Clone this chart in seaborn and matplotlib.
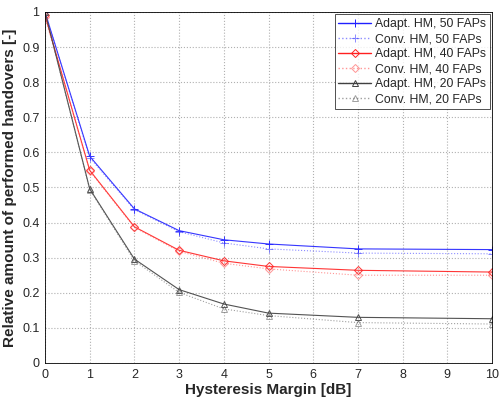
import matplotlib
matplotlib.use("Agg")
import matplotlib.pyplot as plt
from matplotlib.lines import Line2D
import seaborn as sns
import pandas as pd

hm = [0, 1, 2, 3, 4, 5, 7, 10]
adapt_50 = [1.0, 0.589, 0.439, 0.377, 0.351, 0.339, 0.325, 0.323]
conv_50 = [1.0, 0.585, 0.437, 0.374, 0.342, 0.325, 0.313, 0.311]
adapt_40 = [0.99, 0.549, 0.388, 0.321, 0.291, 0.275, 0.264, 0.259]
conv_40 = [0.985, 0.547, 0.386, 0.318, 0.284, 0.268, 0.250, 0.250]
adapt_20 = [1.0, 0.496, 0.296, 0.209, 0.168, 0.142, 0.130, 0.126]
conv_20 = [1.0, 0.494, 0.291, 0.201, 0.154, 0.135, 0.115, 0.111]

labels = ["Adapt. HM, 50 FAPs", "Conv. HM, 50 FAPs",
          "Adapt. HM, 40 FAPs", "Conv. HM, 40 FAPs",
          "Adapt. HM, 20 FAPs", "Conv. HM, 20 FAPs"]
series = [adapt_50, conv_50, adapt_40, conv_40, adapt_20, conv_20]
colors = ["#2020ff", "#4040ff", "#ff2020", "#ff5050", "#404040", "#606060"]
markers = ["+", "+", "D", "D", "^", "^"]
styles = ["-", ":", "-", ":", "-", ":"]

sns.set_style("white")
plt.rcParams["font.family"] = ["Liberation Sans", "DejaVu Sans"]

fig = plt.figure(figsize=(5.0, 3.98), dpi=100)
ax = fig.add_axes([0.09, 0.088, 0.894, 0.882])

handles = []
for lab, vals, c, m, ls in zip(labels, series, colors, markers, styles):
    df = pd.DataFrame({"x": hm, "y": vals})
    mfc = c if m == "+" else "none"
    ms = 6 if m == "+" else (4 if m == "D" else 5)
    al = 0.9 if ls == "-" else 0.6
    kw = dict(color=c, linestyle=ls, linewidth=0.8, marker=m, markersize=ms,
              markerfacecolor=mfc, markeredgecolor=c, markeredgewidth=0.7, alpha=al)
    sns.lineplot(data=df, x="x", y="y", ax=ax, **kw)
    hkw = dict(kw)
    hkw["linewidth"] = 1.0
    hkw["alpha"] = 1.0 if ls == "-" else 0.6
    handles.append(Line2D([], [], **hkw))

ax.set_xlim(0, 10)
ax.set_ylim(0, 1)
ax.set_xticks(range(0, 11))
ax.set_yticks([i / 10 for i in range(0, 11)])
ax.set_yticklabels(["0", "0.1", "0.2", "0.3", "0.4", "0.5", "0.6", "0.7", "0.8", "0.9", "1"])
ax.tick_params(labelsize=9, length=3, direction="in", pad=4)
ax.grid(True, linestyle=":", color="#b0b0b0", linewidth=0.8)
for s in ax.spines.values():
    s.set_color("black")
    s.set_linewidth(0.6)
ax.set_xlabel("Hysteresis Margin [dB]", fontsize=11, fontweight="bold", labelpad=2)
ax.set_ylabel("Relative amount of performed handovers [-]", fontsize=11, fontweight="bold", labelpad=4)
leg = ax.legend(handles, labels, loc="upper right", fontsize=8.8, frameon=True, fancybox=False,
                edgecolor="black", borderpad=0.3, labelspacing=0.25,
                handlelength=2.7, handletextpad=0.3, borderaxespad=0.2)
leg.get_frame().set_linewidth(0.6)

fig.savefig("out.png", dpi=100)
